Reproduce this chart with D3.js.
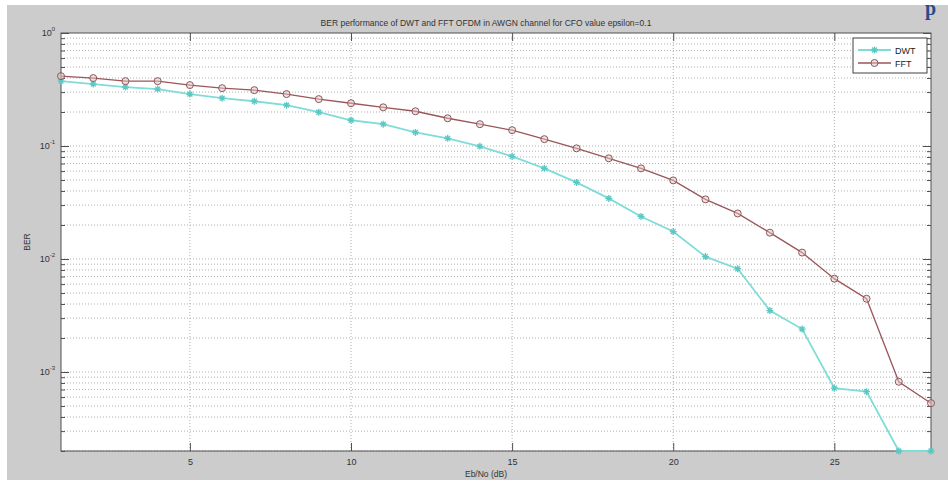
<!DOCTYPE html>
<html>
<head>
<meta charset="utf-8">
<script src="https://cdn.jsdelivr.net/npm/d3@7"></script>
<style>
body { margin: 0; background: #ffffff; }
svg { display: block; }
</style>
</head>
<body>
<div class="chart"></div>
<script>
// Eb/No values (dB)
var ebno = [1, 2, 3, 4, 5, 6, 7, 8, 9, 10, 11, 12, 13, 14,
            15, 16, 17, 18, 19, 20, 21, 22, 23, 24, 25, 26, 27, 28];
var berDWT = [0.375, 0.353, 0.332, 0.319, 0.288, 0.265, 0.249, 0.230, 0.199, 0.169,
              0.156, 0.132, 0.117, 0.0994, 0.081, 0.0634, 0.0476, 0.0344, 0.0238, 0.0175,
              0.0105, 0.0082, 0.0035, 0.0024, 0.00072, 0.00067, 0.0002, 0.0002];
var berFFT = [0.415, 0.399, 0.375, 0.375, 0.346, 0.325, 0.312, 0.288, 0.260, 0.239,
              0.220, 0.203, 0.176, 0.156, 0.138, 0.115, 0.0954, 0.0778, 0.0634, 0.0496,
              0.0337, 0.0253, 0.0171, 0.0114, 0.0067, 0.00445, 0.00082, 0.00053];
var xTicks = [5, 10, 15, 20, 25];
var yTicks = [1, 0.1, 0.01, 0.001];
var seriesNames = ['DWT', 'FFT'];

var width = 948, height = 482;
var plotLeft = 61, plotRight = 931, plotTop = 33, plotBottom = 451;
var dwtColor = '#7fdcd8', fftColor = '#9a5658';
var gridColor = '#9a9a9a';
var font = 'Liberation Sans, Arial, sans-serif';

var svg = d3.select('.chart').append('svg')
	.attr('width', width)
	.attr('height', height);

// figure background
svg.append('rect').attr('x', 7).attr('y', 5).attr('width', width - 7).attr('height', height - 7)
	.attr('fill', '#cccccc');
svg.append('rect').attr('x', plotLeft).attr('y', plotTop)
	.attr('width', plotRight - plotLeft).attr('height', plotBottom - plotTop)
	.attr('fill', '#ffffff');

var x = d3.scaleLinear().domain([1, 28]).range([plotLeft, plotRight]);
var y = d3.scaleLog().domain([2e-4, 1]).range([plotBottom, plotTop]);

// minor values for log grid
var minor = [];
yTicks.forEach(function(d){
	for(var k = 2; k <= 9; k++){
		if(d / 10 * k >= 2e-4 && d / 10 * k < 1) minor.push(d / 10 * k);
	}
});

// grid
var grid = svg.append('g');
grid.selectAll('.gy').data(minor.concat(yTicks.slice(1))).enter().append('line')
	.attr('x1', plotLeft).attr('x2', plotRight)
	.attr('y1', function(d){ return y(d); }).attr('y2', function(d){ return y(d); })
	.attr('stroke', gridColor).attr('stroke-width', 0.8).attr('stroke-dasharray', '1,2');
grid.selectAll('.gx').data(xTicks).enter().append('line')
	.attr('x1', function(d){ return x(d); }).attr('x2', function(d){ return x(d); })
	.attr('y1', plotTop).attr('y2', plotBottom)
	.attr('stroke', gridColor).attr('stroke-width', 0.8).attr('stroke-dasharray', '1,2');

// axes with inward ticks
var axisColor = '#505050';
function styleAxis(g){
	g.select('.domain').remove();
	g.selectAll('.tick line').attr('stroke', axisColor);
}
svg.append('g').attr('transform', 'translate(0,' + plotBottom + ')')
	.call(d3.axisBottom(x).tickValues(xTicks).tickSize(-8).tickPadding(6))
	.call(styleAxis)
	.call(function(g){
		g.selectAll('.tick text').attr('font-family', font).attr('font-size', 9)
			.attr('fill', '#333').attr('y', 8).attr('dy', '0.71em');
	});
svg.append('g').attr('transform', 'translate(0,' + plotTop + ')')
	.call(d3.axisTop(x).tickValues(xTicks).tickSize(-8).tickFormat(''))
	.call(styleAxis);
svg.append('g').attr('transform', 'translate(' + plotLeft + ',0)')
	.call(d3.axisLeft(y).tickValues(yTicks).tickSize(-8).tickPadding(6))
	.call(styleAxis)
	.call(function(g){
		g.selectAll('.tick text').text(null).attr('font-family', font).attr('font-size', 9)
			.attr('fill', '#333').attr('x', -6)
			.call(function(t){
				t.append('tspan').text('10');
				t.append('tspan').attr('dy', -5).attr('font-size', 6)
					.text(function(d){ return Math.round(Math.log10(d)); });
			});
	});
svg.append('g').attr('transform', 'translate(' + plotLeft + ',0)')
	.call(d3.axisLeft(y).tickValues(minor).tickSize(-4).tickFormat(''))
	.call(styleAxis);
svg.append('g').attr('transform', 'translate(' + plotRight + ',0)')
	.call(d3.axisRight(y).tickValues(yTicks).tickSize(-8).tickFormat(''))
	.call(styleAxis);
svg.append('g').attr('transform', 'translate(' + plotRight + ',0)')
	.call(d3.axisRight(y).tickValues(minor).tickSize(-4).tickFormat(''))
	.call(styleAxis);

// box
svg.append('rect').attr('x', plotLeft).attr('y', plotTop)
	.attr('width', plotRight - plotLeft).attr('height', plotBottom - plotTop)
	.attr('fill', 'none').attr('stroke', axisColor).attr('stroke-width', 1);

// lines
var line = d3.line()
	.x(function(d){ return x(d[0]); })
	.y(function(d){ return y(d[1]); });
var dwtPts = ebno.map(function(d, i){ return [d, berDWT[i]]; });
var fftPts = ebno.map(function(d, i){ return [d, berFFT[i]]; });

var plot = svg.append('g');
plot.append('path').datum(dwtPts).attr('d', line)
	.attr('fill', 'none').attr('stroke', dwtColor).attr('stroke-width', 1.8);
plot.append('path').datum(fftPts).attr('d', line)
	.attr('fill', 'none').attr('stroke', fftColor).attr('stroke-width', 1.3);

function starPath(cx, cy, r){
	var a = r * 0.7;
	return 'M' + (cx - r) + ',' + cy + 'H' + (cx + r) +
		'M' + cx + ',' + (cy - r) + 'V' + (cy + r) +
		'M' + (cx - a) + ',' + (cy - a) + 'L' + (cx + a) + ',' + (cy + a) +
		'M' + (cx - a) + ',' + (cy + a) + 'L' + (cx + a) + ',' + (cy - a);
}
plot.selectAll('.mdwt').data(dwtPts).enter().append('path')
	.attr('d', function(d){ return starPath(x(d[0]), y(d[1]), 3.5); })
	.attr('stroke', '#5cc8c4').attr('stroke-width', 1.3).attr('fill', 'none');
plot.selectAll('.mfft').data(fftPts).enter().append('circle')
	.attr('cx', function(d){ return x(d[0]); })
	.attr('cy', function(d){ return y(d[1]); })
	.attr('r', 3.5)
	.attr('fill', '#e8c4c4').attr('fill-opacity', 0.5)
	.attr('stroke', '#8a5a5c').attr('stroke-width', 1);

// legend
var lg = svg.append('g');
lg.append('rect').attr('x', 853).attr('y', 38).attr('width', 74).attr('height', 35)
	.attr('fill', '#ffffff').attr('stroke', '#404040').attr('stroke-width', 1);
seriesNames.forEach(function(name, i){
	var ly = 50 + i * 13;
	lg.append('line').attr('x1', 858).attr('x2', 891).attr('y1', ly).attr('y2', ly)
		.attr('stroke', i == 0 ? dwtColor : fftColor).attr('stroke-width', i == 0 ? 1.8 : 1.3);
	if(i == 0){
		lg.append('path').attr('d', starPath(874.5, ly, 3.5))
			.attr('stroke', '#5cc8c4').attr('stroke-width', 1.3);
	} else {
		lg.append('circle').attr('cx', 874.5).attr('cy', ly).attr('r', 3.5)
			.attr('fill', '#e8c4c4').attr('fill-opacity', 0.5)
			.attr('stroke', '#8a5a5c').attr('stroke-width', 1);
	}
	lg.append('text').attr('x', 895).attr('y', ly + 3.5).text(name)
		.attr('font-family', font).attr('font-size', 9).attr('fill', '#222');
});

// titles
svg.append('text').attr('x', (plotLeft + plotRight) / 2 - 10).attr('y', 26)
	.attr('text-anchor', 'middle').attr('font-family', font).attr('font-size', 8.5).attr('fill', '#333')
	.text('BER performance of DWT and FFT OFDM in AWGN channel for CFO value epsilon=0.1');
svg.append('text').attr('x', (plotLeft + plotRight) / 2 - 10).attr('y', 477)
	.attr('text-anchor', 'middle').attr('font-family', font).attr('font-size', 8.5).attr('fill', '#333')
	.text('Eb/No (dB)');
svg.append('text').attr('transform', 'translate(30,242) rotate(-90)')
	.attr('text-anchor', 'middle').attr('font-family', font).attr('font-size', 8.5).attr('fill', '#333')
	.text('BER');

// stray glyph from the cropped page
svg.append('text').attr('x', 925).attr('y', 15)
	.attr('font-family', 'Liberation Serif, serif').attr('font-weight', 'bold').attr('font-size', 20)
	.attr('fill', '#2a4a8a').text('p');
</script>
</body>
</html>
